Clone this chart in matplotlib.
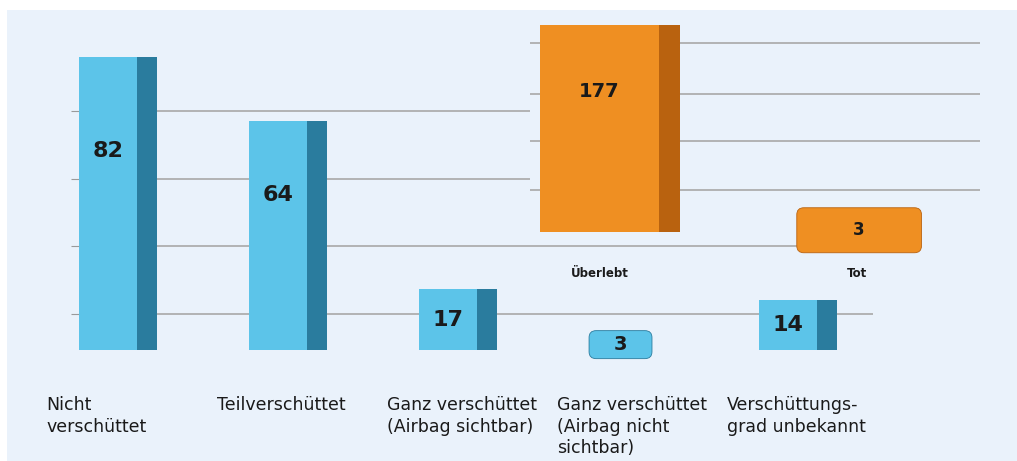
import matplotlib.pyplot as plt
from matplotlib.patches import Rectangle, FancyBboxPatch

# Data
blue_labels = ["Nicht\nverschüttet", "Teilverschüttet", "Ganz verschüttet\n(Airbag sichtbar)",
               "Ganz verschüttet\n(Airbag nicht\nsichtbar)", "Verschüttungs-\ngrad unbekannt"]
blue_values = [82, 64, 17, 3, 14]
orange_labels = ["Überlebt", "Tot"]
orange_values = [177, 3]

W, H = 1017, 461
BG = "#eaf2fb"
fig = plt.figure(figsize=(W / 100, H / 100), dpi=100, facecolor="white")
fig.add_artist(Rectangle((7 / W, 0), 1, 1 - 10 / H, transform=fig.transFigure,
                         facecolor=BG, edgecolor="none", zorder=-5))

BLUE, BLUE_SIDE = "#5cc4e9", "#2a7c9e"
ORANGE, ORANGE_SIDE = "#ef8f22", "#b9620f"


def draw_3d_bars(ax, values, face, side, width, depth, label_size, tiny_px):
    x0, x1 = ax.get_xlim()
    y0, y1 = ax.get_ylim()
    pos = ax.get_position()
    sx = (x1 - x0) / (pos.width * W)   # data units per pixel
    sy = (y1 - y0) / (pos.height * H)
    for i, v in enumerate(values):
        ax.bar(i, v, width=width, color=face, zorder=4)
        if v < 0.12 * y1:
            # tiny value: show it in a rounded box the width of the bar
            bw = width + depth / 4
            bh = tiny_px * sy
            ax.add_patch(FancyBboxPatch((i - width / 2, v / 2 - bh / 2), bw, bh,
                                        boxstyle="round,pad=0,rounding_size=%f" % (7 * sx),
                                        mutation_aspect=sy / sx, fc=face, ec=side,
                                        lw=0.6, zorder=5, clip_on=False))
            ax.text(i - width / 2 + bw / 2, v / 2, str(v), ha="center", va="center",
                    fontsize=label_size - 2, fontweight="bold", zorder=6, color="#1a1a1a")
        else:
            # side face: a narrow darker bar right of the front face
            ax.bar(i + width / 2 + depth / 2, v, width=depth, color=side, zorder=3)
            y = v * 0.68 if v > 0.3 * y1 else v / 2
            ax.text(i, y, str(v), ha="center", va="center", fontsize=label_size,
                    fontweight="bold", zorder=6, color="#1a1a1a")


def style(ax, face):
    ax.set_facecolor(face)
    for s in ax.spines.values():
        s.set_visible(False)
    ax.set_xticks([])
    ax.tick_params(axis="y", length=6, color="#9a9a9a", labelleft=False)
    ax.grid(axis="y", color="#a8a8a8", lw=1.2, zorder=1)
    ax.set_axisbelow(True)


# Blue chart
ax1 = fig.add_axes([79 / W, 111 / H, 794 / W, 300 / H])
ax1.set_xlim(-0.17, len(blue_values) - 0.5)
ax1.set_ylim(0, 84)
ax1.set_yticks([10, 29, 48, 67])
style(ax1, "none")
draw_3d_bars(ax1, blue_values, BLUE, BLUE_SIDE, 0.34, 0.12, 16, 28)
for i, lab in enumerate(blue_labels):
    ax1.text(i - 0.36, -13, lab, ha="left", va="top", fontsize=12.5,
             color="#1a1a1a", linespacing=1.25)

# Orange chart
ax2 = fig.add_axes([530 / W, 229 / H, 450 / W, 210 / H])
ax2.set_xlim(-0.27, len(orange_values) - 0.52)
ax2.set_ylim(0, 180)
ax2.set_yticks([36, 78, 118, 162])
style(ax2, BG)
ax2.tick_params(axis="y", length=0)
draw_3d_bars(ax2, orange_values, ORANGE, ORANGE_SIDE, 0.465, 0.08, 14, 45)
for i, lab in enumerate(orange_labels):
    ax2.text(i, -30, lab, ha="center", va="top", fontsize=8.5, fontweight="bold",
             color="#1a1a1a")

fig.savefig("out.png", dpi=100, facecolor="white")
